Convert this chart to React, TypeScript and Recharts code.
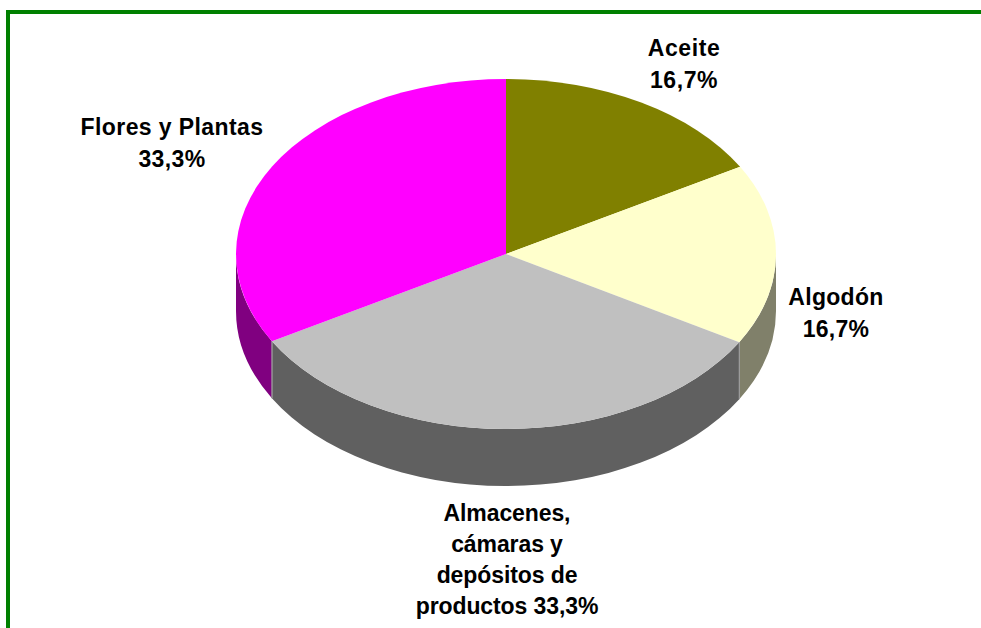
import React from 'react';
import { PieChart, Pie, Cell } from 'recharts';

const categories = ['Aceite', 'Algodón', 'Almacenes, cámaras y depósitos de productos', 'Flores y Plantas'];
const shares = [16.7, 16.7, 33.3, 33.3];
const topColors = ['#808000', '#ffffcc', '#c0c0c0', '#ff00ff'];
const sideColors = ['#404000', '#80806a', '#606060', '#800080'];

const labelLines = [
  ['Aceite', '16,7%'],
  ['Algodón', '16,7%'],
  ['Almacenes,', 'cámaras y', 'depósitos de', 'productos 33,3%'],
  ['Flores y Plantas', '33,3%'],
];
const labelAnchors = [
  { x: 684, y: 56, step: 32, spacing: 0.6 },
  { x: 836, y: 305, step: 32, spacing: 0.3 },
  { x: 507, y: 521, step: 31, spacing: -0.1 },
  { x: 172, y: 135, step: 32, spacing: 0.4 },
];

const data = categories.map((name, i) => ({ name, value: shares[i] }));

const CX = 506;
const CY = 254;
const RX = 270;
const SQUASH = 175 / 270;
const DEPTH = 57;

// Recharts gives circular angles; the tilted look squashes them to an ellipse
const point = (cx: number, cy: number, r: number, deg: number, drop = 0) => {
  const rad = (deg * Math.PI) / 180;
  return [cx + r * Math.cos(rad), cy - r * SQUASH * Math.sin(rad) + drop];
};

const TopSlice = (props: any) => {
  const { cx, cy, outerRadius: r, startAngle, endAngle, fill } = props;
  const [x1, y1] = point(cx, cy, r, startAngle);
  const [x2, y2] = point(cx, cy, r, endAngle);
  const large = Math.abs(startAngle - endAngle) > 180 ? 1 : 0;
  const d = `M${cx},${cy}L${x1},${y1}A${r},${r * SQUASH} 0 ${large} 1 ${x2},${y2}Z`;
  return <path d={d} fill={fill} />;
};

// only the front half of the rim (angles -180..0) can be seen
const SideSlice = (props: any) => {
  const { cx, cy, outerRadius: r, startAngle, endAngle, fill } = props;
  const from = Math.min(startAngle, 0);
  const to = Math.max(endAngle, -180);
  if (from <= to) return null;
  const [x1, y1] = point(cx, cy, r, from);
  const [x2, y2] = point(cx, cy, r, to);
  const d = `M${x1},${y1}A${r},${r * SQUASH} 0 0 1 ${x2},${y2}L${x2},${y2 + DEPTH}A${r},${r * SQUASH} 0 0 0 ${x1},${y1 + DEPTH}Z`;
  return (
    <g>
      <path d={d} fill={fill} />
      {from === startAngle && <line x1={x1} y1={y1} x2={x1} y2={y1 + DEPTH} stroke="#a0a0a0" />}
      {to === endAngle && <line x1={x2} y1={y2} x2={x2} y2={y2 + DEPTH} stroke="#a0a0a0" />}
    </g>
  );
};

const renderLabel = ({ index }: any) => {
  const { x, y, step, spacing } = labelAnchors[index];
  return (
    <text
      key={index}
      x={x}
      y={y}
      textAnchor="middle"
      fontFamily="'Liberation Sans', Arial, sans-serif"
      fontWeight="bold"
      fontSize={23}
      letterSpacing={spacing}
      fill="#000000"
    >
      {labelLines[index].map((line, i) => (
        <tspan key={line} x={x} y={y + i * step}>
          {line}
        </tspan>
      ))}
    </text>
  );
};

export default function App() {
  return (
    <div style={{ position: 'absolute', left: 0, top: 0, width: 981, height: 628, overflow: 'hidden', background: '#ffffff' }}>
      <div style={{ position: 'absolute', left: 6, top: 10, width: 975, height: 618, boxSizing: 'border-box', borderTop: '4px solid #008000', borderLeft: '4px solid #008000' }} />
      <div style={{ position: 'absolute', left: 0, top: 0 }}>
        <PieChart width={981} height={628} margin={{ top: 0, right: 0, bottom: 0, left: 0 }}>
          <Pie
            data={data}
            dataKey="value"
            cx={CX}
            cy={CY}
            outerRadius={RX}
            startAngle={90}
            endAngle={-270}
            stroke="none"
            shape={SideSlice}
            isAnimationActive={false}
          >
            {sideColors.map((c) => (
              <Cell key={c} fill={c} />
            ))}
          </Pie>
          <Pie
            data={data}
            dataKey="value"
            cx={CX}
            cy={CY}
            outerRadius={RX}
            startAngle={90}
            endAngle={-270}
            stroke="none"
            shape={TopSlice}
            label={renderLabel}
            labelLine={false}
            isAnimationActive={false}
          >
            {topColors.map((c) => (
              <Cell key={c} fill={c} />
            ))}
          </Pie>
        </PieChart>
      </div>
    </div>
  );
}
